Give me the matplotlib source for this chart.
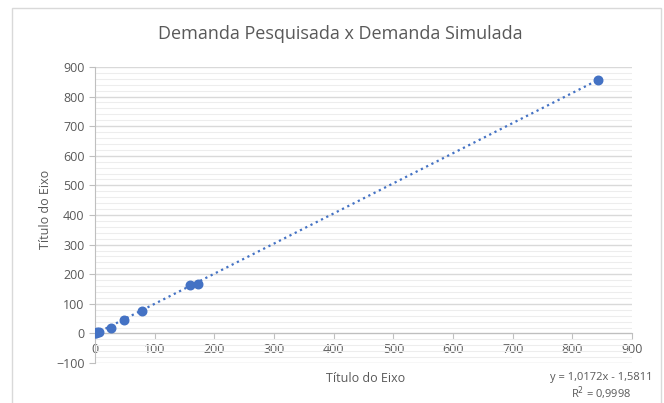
import matplotlib.pyplot as plt
import numpy as np
from matplotlib.ticker import MultipleLocator
from matplotlib.patches import Rectangle

# values
demanda_pesquisada = [0, 2, 4, 7, 27, 48, 78, 160, 172, 842]
demanda_simulada = [0, 2, 4, 6, 20, 45, 77, 162, 168, 855]
slope = 1.0172
intercept = -1.5811
r2 = "0,9998"

title = "Demanda Pesquisada x Demanda Simulada"
x_label = "Título do Eixo"
y_label = "Título do Eixo"

blue = "#4472C4"
gray_text = "#595959"

plt.rcParams['font.family'] = ['Open Sans', 'DejaVu Sans']

fig = plt.figure(figsize=(6.64, 4.03), dpi=100)
ax = fig.add_axes([0.143, 0.099, 0.809, 0.735])

# chart border
fig.patches.append(Rectangle((12 / 664, -0.05), 649 / 664, 1.05 - 8 / 403,
                             transform=fig.transFigure, fill=False,
                             edgecolor="#D9D9D9", lw=1))

ax.set_xlim(0, 900)
ax.set_ylim(-100, 900)
ax.yaxis.set_major_locator(MultipleLocator(100))
ax.yaxis.set_minor_locator(MultipleLocator(20))
ax.xaxis.set_major_locator(MultipleLocator(100))

ax.grid(which='major', axis='y', color="#D9D9D9", lw=1)
ax.grid(which='minor', axis='y', color="#EDEDED", lw=0.8)
ax.set_axisbelow(True)

for s in ['top', 'right']:
    ax.spines[s].set_visible(False)
ax.spines['bottom'].set_position(('data', 0))
ax.spines['bottom'].set_color("#BFBFBF")
ax.spines['left'].set_color("#BFBFBF")

ax.tick_params(axis='both', which='major', colors="#BFBFBF", length=4,
               labelcolor=gray_text, labelsize=9)
ax.tick_params(axis='y', which='minor', length=0)
ax.tick_params(axis='x', pad=3)
for lbl in ax.get_xticklabels():
    lbl.set_bbox(dict(facecolor='white', edgecolor='none', pad=1.5))

xs = np.array([min(demanda_pesquisada), max(demanda_pesquisada)])
ax.plot(xs, slope * xs + intercept, linestyle=':', color=blue, lw=1.6)
ax.scatter(demanda_pesquisada, demanda_simulada, s=38, color=blue, zorder=3)

fig.text(0.512, 0.915, title, ha='center', va='center', fontsize=13,
         color=gray_text)
fig.text(0.55, 0.062, x_label, ha='center', va='center', fontsize=9,
         color=gray_text)
fig.text(0.068, 0.48, y_label, ha='center', va='center', fontsize=9,
         color=gray_text, rotation=90)

fig.text(0.905, 0.063, "y = 1,0172x - 1,5811", ha='center', va='center',
         fontsize=8, color=gray_text)
fig.text(0.905, 0.025, "R$^2$ = " + r2, ha='center', va='center',
         fontsize=8, color=gray_text)

fig.savefig("out.png", dpi=100)
